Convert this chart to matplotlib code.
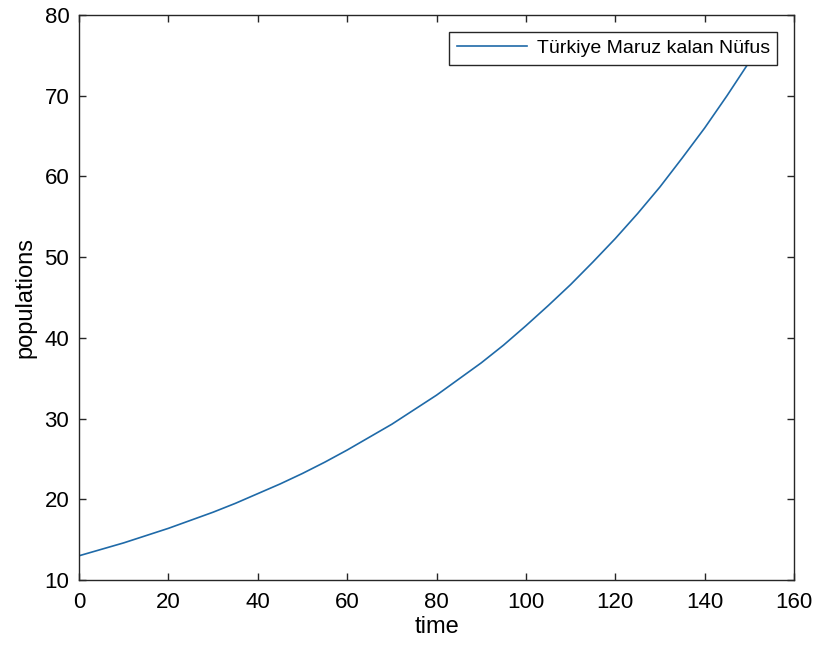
import matplotlib
matplotlib.use("Agg")
import matplotlib.pyplot as plt

# values
time = [0, 5, 10, 15, 20, 25, 30, 35, 40, 45, 50, 55, 60, 65, 70, 75,
        80, 85, 90, 95, 100, 105, 110, 115, 120, 125, 130, 135, 140, 145, 150]
populations = [13.0, 13.8, 14.6, 15.5, 16.4, 17.4, 18.4, 19.5, 20.7, 21.9,
               23.2, 24.6, 26.1, 27.7, 29.3, 31.1, 32.9, 34.9, 36.9, 39.1,
               41.5, 44.0, 46.6, 49.4, 52.3, 55.4, 58.7, 62.3, 66.0, 70.0, 74.2]
xticks = [0, 20, 40, 60, 80, 100, 120, 140, 160]
yticks = [10, 20, 30, 40, 50, 60, 70, 80]

plt.rcParams['font.family'] = ['Liberation Sans', 'DejaVu Sans']

fig = plt.figure(figsize=(8.19, 6.53), dpi=100)
ax = fig.add_axes([0.0965, 0.1118, 0.873, 0.8652])

ax.plot(time, populations, color="#1f6aa8", linewidth=1.2,
        label="Türkiye Maruz kalan Nüfus")

ax.set_xlim(0, 160)
ax.set_ylim(10, 80)
ax.set_xticks(xticks)
ax.set_yticks(yticks)

for s in ax.spines.values():
    s.set_color("#262626")
    s.set_linewidth(1.0)
ax.tick_params(direction="in", length=5, width=1.0, color="#262626",
               labelsize=16, top=True, right=True)
ax.tick_params(axis="x", pad=9)
ax.tick_params(axis="y", pad=7)

ax.set_xlabel("time", fontsize=17, labelpad=2)
ax.set_ylabel("populations", fontsize=17, labelpad=6)

leg = ax.legend(loc="upper right", fontsize=14, fancybox=False,
                framealpha=1, edgecolor="#262626", handlelength=3.6,
                borderaxespad=0.85, borderpad=0.4, handletextpad=0.5)
leg.get_frame().set_linewidth(1.0)

fig.savefig("out.png", dpi=100)
